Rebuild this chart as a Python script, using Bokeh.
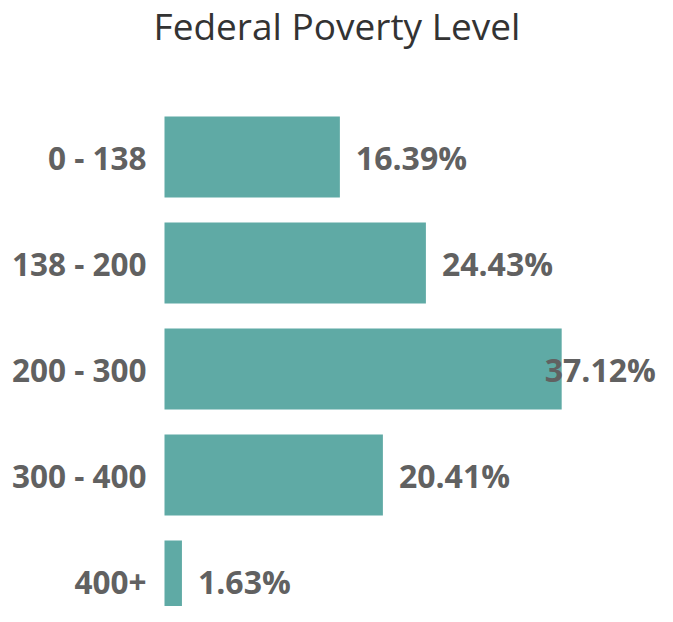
from bokeh.plotting import figure
from bokeh.models import ColumnDataSource, Range1d, FixedTicker, Label
from bokeh.core.properties import value
from bokeh.embed import file_html
from bokeh.resources import INLINE

categories = ["0 - 138", "138 - 200", "200 - 300", "300 - 400", "400+"]
percentages = [16.39, 24.43, 37.12, 20.41, 1.63]
value_labels = ["16.39%", "24.43%", "37.12%", "20.41%", "1.63%"]
title_text = "Federal Poverty Level"

BAR_COLOR = "#5faaa5"
TEXT_COLOR = "#616161"

W, H = 657, 606
LEFT = 150          # frame left edge (px)
BAR_ORIGIN = 164    # where x=0 falls (px)
frame_w = W - LEFT
px_per_unit = 10.70
band = 106.0
first_band_top = 103.5

ypos = list(range(len(categories)))
offsets = [16 if v < 35 else -17 for v in percentages]

src = ColumnDataSource(dict(y=ypos, v=percentages, lab=value_labels, off=offsets))

x_start = -(BAR_ORIGIN - LEFT) / px_per_unit
y_top = -0.5 - first_band_top / band
y_bottom = y_top + H / band

p = figure(width=W, height=H, output_backend="svg", toolbar_location=None,
           x_range=Range1d(x_start, x_start + frame_w / px_per_unit),
           y_range=Range1d(y_bottom, y_top),
           min_border_left=LEFT, min_border_top=0, min_border_bottom=0,
           min_border_right=0)
p.outline_line_color = None
p.background_fill_color = "white"
p.border_fill_color = "white"
p.grid.visible = False
p.xaxis.visible = False

p.hbar(y="y", right="v", left=0, height=81 / band, source=src,
       fill_color=BAR_COLOR, line_color=None)

p.text(x="v", y="y", text="lab", x_offset="off", source=src,
       text_font=value("Open Sans"), text_font_style="bold",
       text_font_size="32px", text_color=TEXT_COLOR,
       text_align="left", text_baseline="middle")

ax = p.yaxis[0]
ax.ticker = FixedTicker(ticks=ypos)
ax.major_label_overrides = {i: c for i, c in zip(ypos, categories)}
ax.axis_line_color = None
ax.major_tick_line_color = None
ax.minor_tick_line_color = None
ax.major_tick_out = 0
ax.major_tick_in = 0
ax.major_label_standoff = 4
ax.major_label_text_font = "Open Sans"
ax.major_label_text_font_style = "bold"
ax.major_label_text_font_size = "31.5px"
ax.major_label_text_color = TEXT_COLOR

title = Label(x=(336.5 - BAR_ORIGIN) / px_per_unit, y=y_top + 25 / band,
              text=title_text, text_font="Open Sans", text_font_size="37px",
              text_color="#333333", text_align="center", text_baseline="middle")
p.add_layout(title)

open("out.html", "w").write(file_html(p, INLINE))
